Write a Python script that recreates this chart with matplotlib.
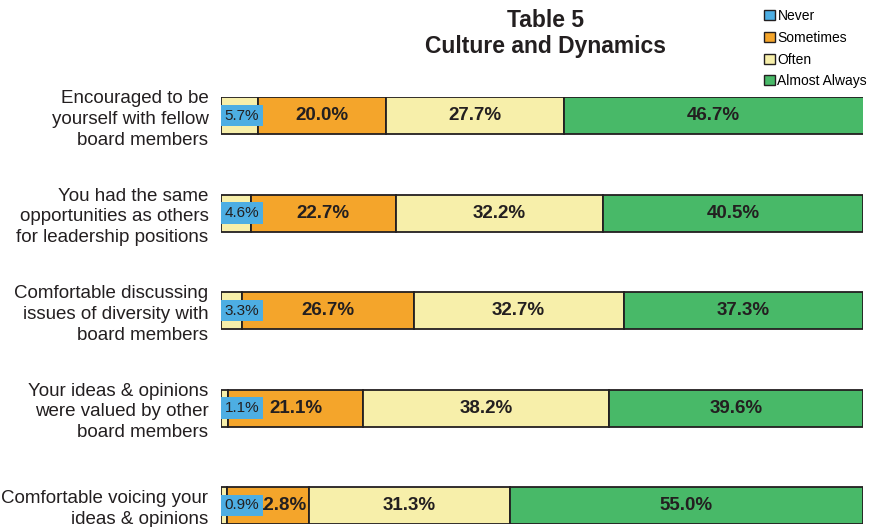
# Stacked bar chart: Table 5 - Culture and Dynamics
import numpy as np
import matplotlib.pyplot as plt

categories = ['Encouraged to be\nyourself with fellow\nboard members',
              'You had the same\nopportunities as others\nfor leadership positions',
              'Comfortable discussing\nissues of diversity with\nboard members',
              'Your ideas & opinions\nwere valued by other\nboard members',
              'Comfortable voicing your\nideas & opinions']
never = [5.7, 4.6, 3.3, 1.1, 0.9]
sometimes = [20.0, 22.7, 26.7, 21.1, 12.8]
often = [27.7, 32.2, 32.7, 38.2, 31.3]
almost_always = [46.7, 40.5, 37.3, 39.6, 55.0]
series_names = ['Never', 'Sometimes', 'Often', 'Almost Always']

plt.rcParams['font.family'] = ['Liberation Sans', 'DejaVu Sans']
dark = '#231F20'
blue = '#4DAEE3'
orange = '#F4A52B'
pale = '#F7EFAA'
green = '#48B968'

fig = plt.figure(figsize=(8.71, 5.27), dpi=100)
ax = fig.add_axes([0.2537, 0.0057, 0.7371, 0.810])

y = np.arange(len(categories))
h = 0.38
series = [never, sometimes, often, almost_always]
# the "Never" segment is filled pale in the original, only its label box is blue
fills = [pale, orange, pale, green]
left = np.zeros(len(categories))
for vals, fc in zip(series, fills):
    ax.barh(y, vals, height=h, left=left, color=fc, edgecolor=dark, linewidth=1.3)
    left += np.array(vals)

# labels
left = np.zeros(len(categories))
for k, vals in enumerate(series):
    for i, v in enumerate(vals):
        if k == 0:
            ax.annotate(f'{v:.1f}%', (0, i), xytext=(2.5, 0), textcoords='offset points',
                        ha='left', va='center', fontsize=11, color=dark,
                        bbox=dict(boxstyle='square,pad=0.25', fc=blue, ec='none'),
                        zorder=5)
        else:
            cx = left[i] + v / 2
            dx = 0
            # label pushed right where the segment sits under the blue box
            if k == 1 and cx < 9:
                dx = 9
            ax.annotate(f'{v:.1f}%', (cx, i), xytext=(dx, 0), textcoords='offset points',
                        ha='center', va='center', fontsize=13.5, fontweight='bold',
                        color=dark, zorder=4)
    left += np.array(vals)

ax.set_xlim(0, 100)
ax.set_ylim(len(categories) - 1 + h / 2, -h / 2)
ax.set_yticks(y)
ax.set_yticklabels(categories, fontsize=13.5, color=dark, linespacing=1.28)
ax.tick_params(axis='y', length=0, pad=9)
ax.set_xticks([])
for s in ax.spines.values():
    s.set_visible(False)

fig.text(0.626, 0.962, 'Table 5', ha='center', va='center', fontsize=16.5,
         fontweight='bold', color=dark)
fig.text(0.626, 0.912, 'Culture and Dynamics', ha='center', va='center', fontsize=16.5,
         fontweight='bold', color=dark)

# legend
handles = [plt.Rectangle((0, 0), 1, 1, fc=c, ec=dark, lw=1.0) for c in [blue, orange, pale, green]]
fig.legend(handles, series_names, loc='upper left', bbox_to_anchor=(0.871, 0.993),
           frameon=False, fontsize=10, handlelength=0.75, handleheight=0.75,
           handletextpad=0.2, labelspacing=0.55, borderaxespad=0)

fig.savefig('out.png', dpi=100)
